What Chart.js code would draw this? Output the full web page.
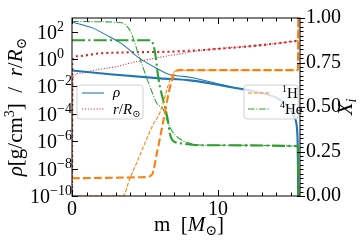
<!DOCTYPE html>
<html>
<head>
<meta charset="utf-8">
<script src="https://cdn.jsdelivr.net/npm/chart.js@4.4.1/dist/chart.umd.min.js"></script>
<style>
  html, body { margin: 0; padding: 0; background: #fff; }
  #wrap { width: 360px; height: 240px; }
</style>
</head>
<body>
<div id="wrap"><canvas id="c" width="360" height="240"></canvas></div>
<script>
// matplotlib tab colours
const BLUE = '#1f77b4';
const RED = '#d62728';
const ORANGE = '#ff7f0e';
const GREEN = '#2ca02c';
const SERIF = '"Liberation Serif", "DejaVu Serif", serif';

// tick labels
const xTickLabels = [0, 10];
const leftDecades = [-10, -8, -6, -4, -2, 0, 2];
const rightTicks = [0, 0.25, 0.5, 0.75, 1];

// density, model A (thick) and model B (thin)
const rhoAM = [0, 2.6, 6.03, 8.08, 11.03, 12.67, 14.25, 14.93, 15.27, 15.41, 15.46, 15.5];
const rhoAV = [0.148, 0.079, 0.039, 0.028, 0.0085, 0.0039, 0.00107, 2.2e-4, 4.6e-5, 9.3e-6, 6.3e-7, 1e-10];
const rhoBM = [0, 0.7, 1.44, 2.6, 3.29, 3.77, 4.52, 5.82, 6.71, 7.4, 8.08, 9.45, 11.03, 12.67, 14.25, 14.93, 15.27, 15.41, 15.46, 15.5];
const rhoBV = [513, 316, 182, 41, 16, 6.5, 1.38, 0.204, 0.071, 0.058, 0.047, 0.022, 0.0085, 0.0039, 0.00107, 2.2e-4, 4.6e-5, 9.3e-6, 6.3e-7, 1e-10];

// radius in R_sun
const radAM = [0, 0.02, 0.34, 1.92, 3.29, 7.4, 11.99, 14.25, 15.41, 15.5];
const radAV = [1e-12, 0.62, 1.62, 2.6, 3.0, 3.7, 8.3, 14.8, 21.5, 22];
const radBM = [0, 0.07, 0.55, 1.44, 3.29, 3.77, 6.03, 7.4, 8.08, 9.79, 11.99, 14.25, 15.41, 15.5];
const radBV = [1e-12, 0.042, 0.093, 0.148, 0.32, 0.45, 1.37, 2.4, 3.3, 5.6, 8.3, 14.8, 21.5, 22];

// hydrogen mass fraction
const hAM = [0, 5.0, 5.48, 5.82, 6.23, 6.71, 7.05, 7.33, 15.48, 15.5];
const hAV = [0.10, 0.106, 0.12, 0.243, 0.41, 0.61, 0.69, 0.707, 0.707, 1.0];
const hBM = [0, 3.49, 3.97, 4.45, 5.55, 6.03, 6.71, 7.05, 7.5, 15.48, 15.5];
const hBV = [0, 0, 0.10, 0.19, 0.40, 0.47, 0.65, 0.70, 0.707, 0.707, 1.0];

// helium mass fraction
const heAM = [0, 5.34, 5.5, 5.68, 5.89, 6.03, 6.23, 6.58, 6.71, 6.92, 7.5, 8.9, 15.48, 15.5];
const heAV = [0.875, 0.875, 0.865, 0.81, 0.68, 0.61, 0.545, 0.42, 0.35, 0.31, 0.295, 0.285, 0.28, 0];
const heBM = [0, 3.29, 3.97, 4.66, 5.34, 5.82, 6.23, 6.58, 6.85, 7.4, 9.11, 15.48, 15.5];
const heBV = [0.98, 0.975, 0.93, 0.77, 0.614, 0.52, 0.49, 0.41, 0.365, 0.32, 0.285, 0.28, 0];

const toXY = (ms, vs) => ms.map((m, i) => ({ x: m, y: vs[i] }));

function line(data, axis, color, width, dash, order) {
  return {
    data: data,
    yAxisID: axis,
    borderColor: color,
    borderWidth: width,
    borderDash: dash,
    pointRadius: 0,
    fill: false,
    cubicInterpolationMode: 'monotone',
    order: order
  };
}

// rich text: parts drawn one after another, baseline at y
function drawRich(ctx, parts, x, y, rot, align) {
  ctx.save();
  ctx.translate(x, y);
  ctx.rotate(rot);
  let total = 0;
  parts.forEach(p => { ctx.font = p.f; p.w = ctx.measureText(p.t).width; total += (p.adv === undefined ? p.w : p.adv); });
  let cx = align === 'center' ? -total / 2 : align === 'right' ? -total : 0;
  ctx.textAlign = 'left';
  ctx.textBaseline = 'alphabetic';
  ctx.fillStyle = '#000';
  parts.forEach(p => {
    ctx.font = p.f;
    ctx.fillText(p.t, cx, p.dy || 0);
    cx += (p.adv === undefined ? p.w : p.adv);
  });
  ctx.restore();
}

function legendBox(ctx, x, y, w, h) {
  ctx.save();
  ctx.beginPath();
  ctx.roundRect(x, y, w, h, 3);
  ctx.fillStyle = 'rgba(255,255,255,0.8)';
  ctx.fill();
  ctx.strokeStyle = '#d0d0d0';
  ctx.lineWidth = 1;
  ctx.stroke();
  ctx.restore();
}

function legendLine(ctx, x1, x2, y, color, dash) {
  ctx.save();
  ctx.strokeStyle = color;
  ctx.lineWidth = 1.1;
  ctx.setLineDash(dash);
  ctx.beginPath();
  ctx.moveTo(x1, y);
  ctx.lineTo(x2, y);
  ctx.stroke();
  ctx.restore();
}

const decor = {
  id: 'decor',
  afterDraw(chart) {
    const ctx = chart.ctx;
    const a = chart.chartArea;
    const sx = chart.scales.x, sl = chart.scales.yL, sr = chart.scales.yR;
    ctx.save();
    ctx.strokeStyle = '#000';
    ctx.lineWidth = 1;
    ctx.strokeRect(a.left, a.top, a.right - a.left, a.bottom - a.top);

    ctx.beginPath();
    // x ticks every solar mass, inward, top and bottom
    for (let m = 0; m <= 15; m++) {
      const px = Math.round(sx.getPixelForValue(m)) + 0.5;
      const len = xTickLabels.includes(m) ? 6 : 3.5;
      ctx.moveTo(px, a.bottom); ctx.lineTo(px, a.bottom - len);
      ctx.moveTo(px, a.top); ctx.lineTo(px, a.top + len);
    }
    // left decade ticks
    leftDecades.forEach(e => {
      const py = Math.round(sl.getPixelForValue(Math.pow(10, e))) + 0.5;
      ctx.moveTo(a.left, py); ctx.lineTo(a.left + 6, py);
    });
    // right ticks
    for (let k = 0; k <= 40; k++) {
      const py = Math.round(sr.getPixelForValue(k * 0.025)) + 0.5;
      if (k % 10 === 0) { ctx.moveTo(a.right - 3, py); ctx.lineTo(a.right + 5, py); }
      else { ctx.moveTo(a.right, py); ctx.lineTo(a.right + 3.5, py); }
    }
    ctx.stroke();
    ctx.restore();

    // left tick labels 10^n
    ctx.save();
    const big = '20px ' + SERIF, sup = '14px ' + SERIF;
    leftDecades.forEach(e => {
      const py = sl.getPixelForValue(Math.pow(10, e));
      ctx.font = sup;
      const expW = ctx.measureText('\u2212' + Math.abs(e)).width;
      drawRich(ctx, [
        { t: '10', f: big },
        { t: (e < 0 ? '\u2212' : '') + Math.abs(e), f: sup, dy: -8, adv: expW }
      ], a.left, py + 7, 0, 'right');
    });
    ctx.restore();

    // axis titles
    const tf = '21px ' + SERIF, ti = 'italic 21px ' + SERIF, ts = '14px ' + SERIF;
    drawRich(ctx, [
      { t: '\u03c1', f: ti }, { t: '[g/cm', f: tf }, { t: '3', f: ts, dy: -8 }, { t: ']  /  ', f: tf },
      { t: 'r', f: ti }, { t: '/', f: tf }, { t: 'R', f: ti }, { t: '\u2299', f: ts, dy: 4 }
    ], 22, (a.top + a.bottom) / 2, -Math.PI / 2, 'center');
    drawRich(ctx, [
      { t: 'm  [', f: tf }, { t: 'M', f: ti }, { t: '\u2299', f: ts, dy: 4 }, { t: ']', f: tf }
    ], 189, 231, 0, 'center');
    drawRich(ctx, [
      { t: 'X', f: ti }, { t: 'i', f: 'italic 14px ' + SERIF, dy: 4 }
    ], 352, (a.top + a.bottom) / 2, -Math.PI / 2, 'center');

    // legends
    const lf = 'italic 15px ' + SERIF, lr = '15px ' + SERIF, ls = '10px ' + SERIF;
    legendBox(ctx, 77, 85, 66, 34);
    legendLine(ctx, 82, 104, 93, BLUE, []);
    legendLine(ctx, 82, 104, 109, RED, [1.1, 1.8]);
    drawRich(ctx, [{ t: '\u03c1', f: lf }], 113, 97, 0, 'left');
    drawRich(ctx, [{ t: 'r', f: lf }, { t: '/', f: lr }, { t: 'R', f: lf }, { t: '\u2299', f: ls, dy: 3 }], 113, 114, 0, 'left');

    legendBox(ctx, 244, 85, 54, 34);
    legendLine(ctx, 248, 270, 93, ORANGE, [4, 1.8]);
    legendLine(ctx, 248, 270, 109, GREEN, [6.5, 1.8, 1.1, 1.8]);
    drawRich(ctx, [{ t: '1', f: ls, dy: -6 }, { t: 'H', f: lr }], 282, 98, 0, 'left');
    drawRich(ctx, [{ t: '4', f: ls, dy: -6 }, { t: 'He', f: lr }], 280, 114, 0, 'left');
  }
};

new Chart(document.getElementById('c'), {
  type: 'line',
  data: {
    datasets: [
      line(toXY(hAM, hAV), 'yR', ORANGE, 2.1, [7.7, 3.3], 1),
      line(toXY(hBM, hBV), 'yR', ORANGE, 1.05, [3.9, 1.7], 1),
      line(toXY(heAM, heAV), 'yR', GREEN, 2.1, [13, 3.3, 2.1, 3.3], 1),
      line(toXY(heBM, heBV), 'yR', GREEN, 1.05, [6.7, 1.7, 1.05, 1.7], 1),
      line(toXY(rhoAM, rhoAV), 'yL', BLUE, 2.1, [], 2),
      line(toXY(rhoBM, rhoBV), 'yL', BLUE, 1.05, [], 2),
      line(toXY(radAM, radAV), 'yL', RED, 2.1, [2.1, 3.0], 2),
      line(toXY(radBM, radBV), 'yL', RED, 1.05, [1.05, 1.7], 2)
    ]
  },
  options: {
    responsive: false,
    animation: false,
    devicePixelRatio: 1,
    layout: { padding: { top: 7, left: 0, right: 0, bottom: 0 } },
    plugins: { legend: { display: false }, tooltip: { enabled: false } },
    scales: {
      x: {
        type: 'linear',
        min: 0,
        max: 15.62,
        afterBuildTicks: s => { s.ticks = xTickLabels.map(v => ({ value: v })); },
        afterFit: s => { s.height = 44; },
        grid: { display: false, drawTicks: false },
        border: { display: false },
        ticks: { font: { family: SERIF, size: 20 }, color: '#000', padding: 2, maxRotation: 0, autoSkip: false }
      },
      yL: {
        type: 'logarithmic',
        position: 'left',
        min: 1e-10,
        max: 1000,
        afterBuildTicks: s => { s.ticks = leftDecades.map(e => ({ value: Math.pow(10, e) })); },
        afterFit: s => { s.width = 72; },
        grid: { display: false, drawTicks: false },
        border: { display: false },
        ticks: { display: false }
      },
      yR: {
        type: 'linear',
        position: 'right',
        min: 0,
        max: 1,
        afterBuildTicks: s => { s.ticks = rightTicks.map(v => ({ value: v })); },
        afterFit: s => { s.width = 60; },
        grid: { display: false, drawTicks: false },
        border: { display: false },
        ticks: {
          font: { family: SERIF, size: 20 }, color: '#000', padding: 6, autoSkip: false,
          callback: v => Number(v).toFixed(2)
        }
      }
    }
  },
  plugins: [decor]
});
</script>
</body>
</html>
